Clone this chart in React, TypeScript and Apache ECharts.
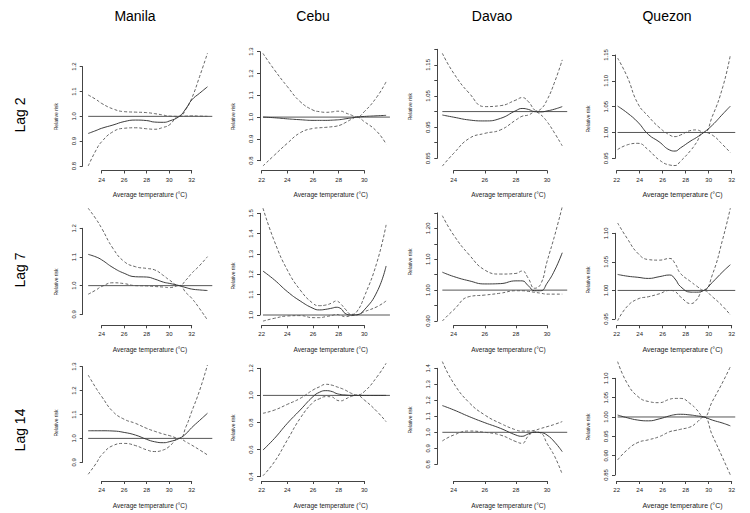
import React, { useEffect, useRef } from 'react';
import * as echarts from 'echarts';

// ---------------- DATA ----------------
const cities = ['Manila', 'Cebu', 'Davao', 'Quezon'];
const lags = ['Lag 2', 'Lag 7', 'Lag 14'];

// temperature grids (°C) per city
const manilaT = [22.8, 23.5, 24, 25, 26, 27, 28, 28.7, 29.5, 30, 30.9, 31.5, 32, 32.7, 33.4];
const cebuT = [22.1, 23, 24, 25, 26, 26.5, 27, 27.5, 27.8, 28.2, 28.5, 29, 29.4, 30, 31, 31.7];
const davaoT = [23.27, 24, 25, 26, 27, 28, 28.4, 28.8, 29.2, 29.6, 30, 30.5, 30.98];
const quezonT = [22.1, 23, 24, 25, 26, 27, 27.5, 28, 29, 29.5, 30.2, 31, 32, 32.7];

// end of the reference line (°C) per city
const refEnd = [33.83, 32.0, 31.3, 33.16];

// Manila
const manilaLag2RR = [0.931, 0.943, 0.952, 0.965, 0.979, 0.985, 0.983, 0.977, 0.976, 0.981, 1.0, 1.032, 1.066, 1.093, 1.119];
const manilaLag2Hi = [1.086, 1.068, 1.052, 1.03, 1.019, 1.017, 1.015, 1.011, 1.005, 1.001, 1.0, 1.03, 1.072, 1.16, 1.254];
const manilaLag2Lo = [0.8, 0.864, 0.898, 0.938, 0.952, 0.954, 0.95, 0.948, 0.956, 0.965, 1.0, 1.001, 1.002, 1.001, 1.0];
const manilaLag7RR = [1.109, 1.1, 1.09, 1.063, 1.043, 1.031, 1.03, 1.023, 1.012, 1.008, 1.0, 0.993, 0.988, 0.985, 0.983];
const manilaLag7Hi = [1.27, 1.232, 1.2, 1.13, 1.084, 1.066, 1.06, 1.055, 1.035, 1.02, 1.0, 1.02, 1.043, 1.07, 1.101];
const manilaLag7Lo = [0.97, 0.985, 0.997, 1.01, 1.007, 1.0, 0.999, 0.997, 0.995, 0.993, 1.0, 0.975, 0.956, 0.92, 0.88];
const manilaLag14RR = [1.032, 1.032, 1.032, 1.031, 1.025, 1.014, 0.996, 0.986, 0.982, 0.986, 1.0, 1.02, 1.045, 1.075, 1.105];
const manilaLag14Hi = [1.265, 1.21, 1.175, 1.112, 1.08, 1.063, 1.042, 1.03, 1.018, 1.012, 1.0, 1.05, 1.112, 1.2, 1.307];
const manilaLag14Lo = [0.85, 0.895, 0.931, 0.97, 0.979, 0.97, 0.952, 0.945, 0.952, 0.966, 1.0, 0.985, 0.972, 0.952, 0.931];

// Cebu
const cebuLag2RR = [1.0, 0.997, 0.992, 0.988, 0.985, 0.985, 0.985, 0.986, 0.987, 0.989, 0.992, 0.996, 1.0, 1.003, 1.006, 1.008];
const cebuLag2Hi = [1.292, 1.216, 1.14, 1.071, 1.032, 1.025, 1.022, 1.024, 1.027, 1.027, 1.02, 1.009, 1.0, 1.025, 1.094, 1.162];
const cebuLag2Lo = [0.776, 0.826, 0.88, 0.928, 0.948, 0.951, 0.953, 0.956, 0.958, 0.965, 0.974, 0.99, 1.0, 0.979, 0.933, 0.876];
const cebuLag7RR = [1.216, 1.172, 1.115, 1.069, 1.033, 1.025, 1.028, 1.034, 1.038, 1.03, 1.008, 1.0, 1.001, 1.025, 1.115, 1.241];
const cebuLag7Hi = [1.525, 1.361, 1.221, 1.123, 1.057, 1.046, 1.049, 1.06, 1.069, 1.052, 1.03, 1.003, 1.015, 1.09, 1.262, 1.443];
const cebuLag7Lo = [0.97, 0.984, 0.995, 0.997, 0.987, 0.987, 0.992, 0.998, 1.003, 0.997, 0.992, 0.997, 1.0, 1.016, 1.041, 1.069];
const cebuLag14RR = [0.597, 0.683, 0.794, 0.892, 0.991, 1.023, 1.035, 1.028, 1.015, 1.006, 1.003, 1.0, 1.0, 1.0, 1.0, 1.0];
const cebuLag14Hi = [0.868, 0.892, 0.934, 0.978, 1.04, 1.063, 1.082, 1.075, 1.065, 1.052, 1.04, 1.015, 1.003, 1.028, 1.138, 1.237];
const cebuLag14Lo = [0.407, 0.511, 0.671, 0.831, 0.949, 0.975, 0.991, 0.988, 0.967, 0.96, 0.972, 0.993, 1.0, 0.966, 0.88, 0.806];

// Davao
const davaoLag2RR = [0.989, 0.982, 0.973, 0.97, 0.978, 1.003, 1.01, 1.007, 1.0, 0.999, 1.002, 1.008, 1.016];
const davaoLag2Hi = [1.187, 1.123, 1.059, 1.016, 1.019, 1.037, 1.045, 1.032, 1.005, 0.99, 0.968, 0.93, 0.89];
const davaoLag2Lo = [0.825, 0.866, 0.914, 0.93, 0.941, 0.973, 0.985, 0.989, 1.0, 1.008, 1.037, 1.096, 1.166];
const davaoLag7RR = [1.058, 1.044, 1.03, 1.02, 1.021, 1.03, 1.03, 1.014, 0.998, 0.998, 1.022, 1.065, 1.121];
const davaoLag7Hi = [1.241, 1.178, 1.114, 1.065, 1.052, 1.054, 1.062, 1.038, 1.006, 1.02, 1.092, 1.178, 1.27];
const davaoLag7Lo = [0.9, 0.936, 0.979, 0.984, 0.99, 0.998, 0.998, 0.996, 0.993, 0.99, 0.987, 0.987, 0.987];
const davaoLag14RR = [1.167, 1.14, 1.098, 1.06, 1.025, 0.983, 0.975, 0.99, 1.0, 0.998, 0.983, 0.938, 0.879];
const davaoLag14Hi = [1.442, 1.306, 1.185, 1.108, 1.056, 1.015, 1.008, 1.008, 1.012, 1.024, 1.035, 1.05, 1.067];
const davaoLag14Lo = [0.946, 0.983, 1.008, 1.0, 0.983, 0.942, 0.931, 0.977, 1.002, 0.995, 0.931, 0.848, 0.738];

// Quezon
const quezonLag2RR = [1.051, 1.038, 1.02, 0.996, 0.982, 0.966, 0.964, 0.97, 0.984, 0.99, 1.0, 1.014, 1.036, 1.051];
const quezonLag2Hi = [1.144, 1.108, 1.056, 1.031, 1.01, 0.995, 0.992, 0.995, 1.004, 1.005, 1.0, 1.031, 1.089, 1.15];
const quezonLag2Lo = [0.967, 0.976, 0.979, 0.966, 0.947, 0.937, 0.936, 0.944, 0.966, 0.98, 1.0, 0.995, 0.976, 0.961];
const quezonLag7RR = [1.028, 1.025, 1.023, 1.021, 1.024, 1.027, 1.02, 1.007, 0.997, 0.997, 1.0, 1.014, 1.033, 1.045];
const quezonLag7Hi = [1.118, 1.091, 1.065, 1.054, 1.053, 1.056, 1.047, 1.03, 1.015, 1.008, 1.0, 1.027, 1.091, 1.144];
const quezonLag7Lo = [0.947, 0.972, 0.985, 0.989, 0.994, 1.0, 0.998, 0.989, 0.977, 0.983, 1.0, 0.989, 0.972, 0.957];
const quezonLag14RR = [1.005, 0.998, 0.992, 0.99, 0.995, 1.003, 1.006, 1.007, 1.005, 1.003, 1.0, 0.992, 0.984, 0.977];
const quezonLag14Hi = [1.143, 1.087, 1.053, 1.04, 1.037, 1.046, 1.048, 1.048, 1.033, 1.02, 1.0, 1.04, 1.091, 1.13];
const quezonLag14Lo = [0.889, 0.915, 0.934, 0.941, 0.949, 0.962, 0.965, 0.968, 0.975, 0.985, 1.0, 0.953, 0.893, 0.85];

// x-axis tick range per city
const xTickLo = [24, 22, 24, 22];
const xTickHi = [32, 30, 30, 32];
const xTickStep = [2, 2, 2, 2];

// y-axis ticks per panel [row][col]
const yTickLo = [[0.8, 0.8, 0.85, 0.95], [0.9, 1.0, 0.9, 0.95], [0.9, 0.4, 0.8, 0.85]];
const yTickHi = [[1.2, 1.3, 1.2, 1.15], [1.2, 1.5, 1.25, 1.1], [1.3, 1.2, 1.4, 1.1]];
const yTickStep = [[0.1, 0.1, 0.05, 0.05], [0.1, 0.1, 0.05, 0.05], [0.1, 0.2, 0.1, 0.05]];
const yTickDec = [[1, 1, 2, 2], [1, 1, 2, 2], [1, 1, 1, 2]];
const yTickShown: (number[] | null)[][] = [
  [null, null, [0.85, 0.95, 1.05, 1.15], null],
  [null, null, [0.9, 1.0, 1.1, 1.2], null],
  [null, null, null, null],
];

const temps = [manilaT, cebuT, davaoT, quezonT];
const rrData = [
  [manilaLag2RR, cebuLag2RR, davaoLag2RR, quezonLag2RR],
  [manilaLag7RR, cebuLag7RR, davaoLag7RR, quezonLag7RR],
  [manilaLag14RR, cebuLag14RR, davaoLag14RR, quezonLag14RR],
];
const hiData = [
  [manilaLag2Hi, cebuLag2Hi, davaoLag2Hi, quezonLag2Hi],
  [manilaLag7Hi, cebuLag7Hi, davaoLag7Hi, quezonLag7Hi],
  [manilaLag14Hi, cebuLag14Hi, davaoLag14Hi, quezonLag14Hi],
];
const loData = [
  [manilaLag2Lo, cebuLag2Lo, davaoLag2Lo, quezonLag2Lo],
  [manilaLag7Lo, cebuLag7Lo, davaoLag7Lo, quezonLag7Lo],
  [manilaLag14Lo, cebuLag14Lo, davaoLag14Lo, quezonLag14Lo],
];

// ---------------- LAYOUT (pixels) ----------------
const colAxisX = [82.7, 260, 437.3, 615]; // y-axis line x
const colTickPxLo = [101.7, 261.7, 453.7, 616.7];
const colTickPxHi = [191.7, 364.3, 547, 731.7];
const colNameX = [150, 330.7, 508.5, 688];
const colTitleX = [135, 313, 492, 667];
const rowAxisY = [170.5, 325.3, 481];
const rowLabelY = [115, 270, 430];
const panelTickPxLo = [[166, 160.7, 158.3, 158.3], [314.3, 315, 321, 319], [462.3, 476.7, 464.3, 475]];
const panelTickPxHi = [[66.7, 51.7, 49.3, 55], [228.3, 213.3, 212.9, 233.3], [366.7, 368.3, 368.3, 378.3]];
const panelNameY = [[116.7, 116.7, 106.7, 119], [282, 276, 262, 280], [423, 428, 420, 427]];

const FONT = "'Liberation Sans', Arial, Helvetica, sans-serif";
const AXIS_COLOR = '#444';

function buildOption() {
  const grid: any[] = [];
  const xAxis: any[] = [];
  const yAxis: any[] = [];
  const series: any[] = [];
  const graphic: any[] = [];

  for (let r = 0; r < 3; r++) {
    for (let c = 0; c < 4; c++) {
      const L = colAxisX[c];
      const B = rowAxisY[r];
      const R = 2 * colNameX[c] - L;
      const T = 2 * panelNameY[r][c] - B;
      const xl = xTickLo[c], xh = xTickHi[c];
      const pl = colTickPxLo[c], ph = colTickPxHi[c];
      const xAt = (px: number) => xl + ((px - pl) * (xh - xl)) / (ph - pl);
      const yl = yTickLo[r][c], yh = yTickHi[r][c];
      const ql = panelTickPxLo[r][c], qh = panelTickPxHi[r][c];
      const yAt = (py: number) => yl + ((ql - py) * (yh - yl)) / (ql - qh);

      // data grid
      const g = grid.length;
      grid.push({ left: L, top: T, width: R - L, height: B - T });
      xAxis.push({
        type: 'value', gridIndex: g, min: xAt(L), max: xAt(R),
        axisLine: { show: false }, axisTick: { show: false }, axisLabel: { show: false }, splitLine: { show: false },
        name: 'Average temperature (°C)', nameLocation: 'middle', nameGap: 20.5,
        nameTextStyle: { fontFamily: FONT, fontSize: c === 3 ? 7 : 6.5, color: '#222' },
      });
      yAxis.push({
        type: 'value', gridIndex: g, min: yAt(B), max: yAt(T),
        axisLine: { show: false }, axisTick: { show: false }, axisLabel: { show: false }, splitLine: { show: false },
        name: 'Relative risk', nameLocation: 'middle', nameGap: 24.5,
        nameTextStyle: { fontFamily: FONT, fontSize: 5, color: '#222' },
      });
      const t = temps[c];
      const mk = (vals: number[]) => t.map((x, i) => [x, vals[i]]);
      series.push({
        type: 'line', xAxisIndex: g, yAxisIndex: g, data: [[t[0], 1], [refEnd[c], 1]],
        symbol: 'none', silent: true, clip: false, lineStyle: { color: '#444', width: 0.9 },
      });
      series.push({
        type: 'line', xAxisIndex: g, yAxisIndex: g, data: mk(hiData[r][c]), smooth: 0.5,
        symbol: 'none', silent: true, clip: false, lineStyle: { color: '#555', width: 0.9, type: [3, 2] },
      });
      series.push({
        type: 'line', xAxisIndex: g, yAxisIndex: g, data: mk(loData[r][c]), smooth: 0.5,
        symbol: 'none', silent: true, clip: false, lineStyle: { color: '#555', width: 0.9, type: [3, 2] },
      });
      series.push({
        type: 'line', xAxisIndex: g, yAxisIndex: g, data: mk(rrData[r][c]), smooth: 0.5,
        symbol: 'none', silent: true, clip: false, lineStyle: { color: '#333', width: 0.95 },
      });

      // x-axis grid (tick range only)
      const gx = grid.length;
      grid.push({ left: pl, width: ph - pl, top: B - 10, height: 10 });
      xAxis.push({
        type: 'value', gridIndex: gx, min: xl, max: xh, interval: xTickStep[c], position: 'bottom',
        axisLine: { show: true, lineStyle: { color: AXIS_COLOR, width: 1 } },
        axisTick: { show: true, length: 3, lineStyle: { color: AXIS_COLOR, width: 1 } },
        axisLabel: { show: true, margin: 6, fontFamily: FONT, fontSize: 6, color: '#222', formatter: (v: number) => String(Math.round(v)) },
        splitLine: { show: false },
      });
      yAxis.push({ type: 'value', gridIndex: gx, show: false, min: 0, max: 1 });

      // y-axis grid (tick range only)
      const gy = grid.length;
      grid.push({ left: L, width: 10, top: qh, height: ql - qh });
      xAxis.push({ type: 'value', gridIndex: gy, show: false, min: 0, max: 1 });
      const dec = yTickDec[r][c];
      const shown = yTickShown[r][c];
      yAxis.push({
        type: 'value', gridIndex: gy, min: yl, max: yh, interval: yTickStep[r][c], position: 'left',
        axisLine: { show: true, lineStyle: { color: AXIS_COLOR, width: 1 } },
        axisTick: { show: true, length: 3, lineStyle: { color: AXIS_COLOR, width: 1 } },
        axisLabel: {
          show: true, margin: 6, rotate: 90, fontFamily: FONT, fontSize: 6, color: '#222',
          formatter: (v: number) => {
            if (shown && !shown.some((s) => Math.abs(s - v) < 1e-6)) return '';
            return v.toFixed(dec);
          },
        },
        splitLine: { show: false },
      });
    }
  }

  cities.forEach((name, c) => {
    graphic.push({
      type: 'text', x: colTitleX[c], y: 16,
      style: { text: name, align: 'center', verticalAlign: 'middle', fontFamily: FONT, fontSize: 14, fill: '#000' },
    });
  });
  lags.forEach((name, r) => {
    graphic.push({
      type: 'text', x: 20, y: rowLabelY[r], rotation: Math.PI / 2,
      style: { text: name, align: 'center', verticalAlign: 'middle', fontFamily: FONT, fontSize: 14, fill: '#000' },
    });
  });

  return { animation: false, backgroundColor: '#fff', grid, xAxis, yAxis, series, graphic };
}

export default function App() {
  const ref = useRef<HTMLDivElement>(null);
  useEffect(() => {
    document.body.style.margin = '0';
    if (!ref.current) return;
    const chart = echarts.init(ref.current, undefined, { renderer: 'svg' });
    chart.setOption(buildOption() as any);
    return () => chart.dispose();
  }, []);
  return <div ref={ref} style={{ width: 750, height: 513 }} />;
}
